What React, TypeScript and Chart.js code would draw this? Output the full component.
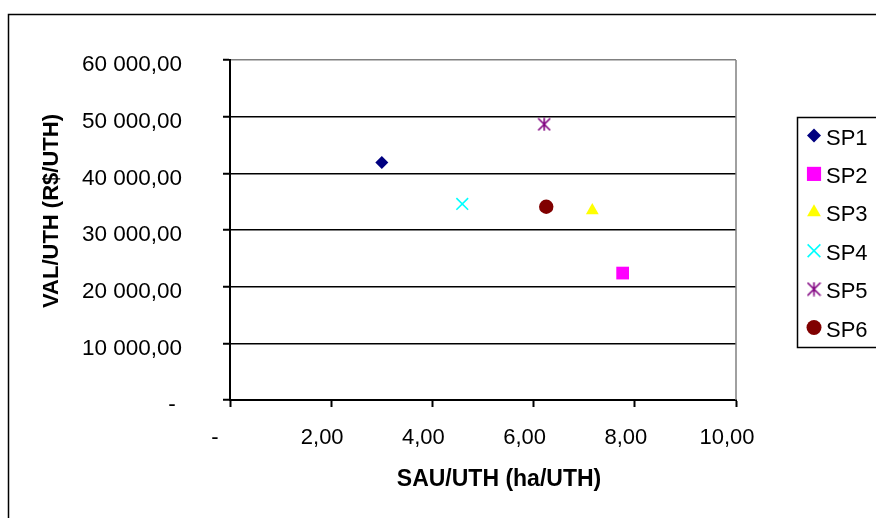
import React, { useEffect, useRef } from 'react';
import { Chart, registerables } from 'chart.js';
import { drawPoint } from 'chart.js/helpers';

Chart.register(...registerables);

// ---- data ----
const seriesNames = ['SP1', 'SP2', 'SP3', 'SP4', 'SP5', 'SP6'];
const sauUth = [3.0, 7.76, 7.16, 4.59, 6.21, 6.25];
const valUth = [41900, 22400, 33450, 34600, 48650, 34100];
const xTickLabels = ['-', '2,00', '4,00', '6,00', '8,00', '10,00'];
const yTickLabels = ['-', '10 000,00', '20 000,00', '30 000,00', '40 000,00', '50 000,00', '60 000,00'];
const xTitle = 'SAU/UTH (ha/UTH)';
const yTitle = 'VAL/UTH (R$/UTH)';

// ---- styles ----
const markerColors = ['#000080', '#FF00FF', '#FFFF00', '#00FFFF', '#800080', '#800000'];
const FONT = '"Liberation Sans", Arial, sans-serif';

function makeStar(color: string, size: number): HTMLCanvasElement {
  const c = document.createElement('canvas');
  c.width = size;
  c.height = size;
  const g = c.getContext('2d')!;
  const m = size / 2;
  g.strokeStyle = color;
  g.lineWidth = 1.6;
  g.beginPath();
  g.moveTo(1, 1); g.lineTo(size - 1, size - 1);
  g.moveTo(size - 1, 1); g.lineTo(1, size - 1);
  g.moveTo(m, 0.5); g.lineTo(m, size - 0.5);
  g.stroke();
  return c;
}

export default function App() {
  const ref = useRef<HTMLCanvasElement | null>(null);

  useEffect(() => {
    const canvas = ref.current!;
    const star = makeStar(markerColors[4], 14);
    const starLegend = makeStar(markerColors[4], 15);
    const styles: any[] = [
      { pointStyle: 'rectRot', radius: 6.5, bw: 0 },
      { pointStyle: 'rect', radius: 9, bw: 0 },
      { pointStyle: 'triangle', radius: 7.4, bw: 0 },
      { pointStyle: 'crossRot', radius: 8.3, bw: 1.6 },
      { pointStyle: star, radius: 7, bw: 0 },
      { pointStyle: 'circle', radius: 7.2, bw: 0 },
    ];
    const legendStyles: any[] = [
      { pointStyle: 'rectRot', radius: 7, bw: 0 },
      { pointStyle: 'rect', radius: 10, bw: 0 },
      { pointStyle: 'triangle', radius: 8, bw: 0 },
      { pointStyle: 'crossRot', radius: 9, bw: 1.6 },
      { pointStyle: starLegend, radius: 7.5, bw: 0 },
      { pointStyle: 'circle', radius: 7.5, bw: 0 },
    ];

    const datasets = seriesNames.map((name, i) => ({
      label: name,
      data: [{ x: sauUth[i], y: valUth[i] }],
      pointStyle: styles[i].pointStyle,
      pointRadius: styles[i].radius,
      pointBackgroundColor: markerColors[i],
      pointBorderColor: markerColors[i],
      pointBorderWidth: styles[i].bw,
      showLine: false,
    }));

    const decor = {
      id: 'decor',
      beforeDraw(chart: any) {
        const ctx = chart.ctx;
        ctx.save();
        ctx.fillStyle = '#fff';
        ctx.fillRect(0, 0, chart.width, chart.height);
        ctx.strokeStyle = '#000';
        ctx.lineWidth = 1.5;
        ctx.strokeRect(8.5, 14.5, 900, 600);
        ctx.restore();
      },
      afterDraw(chart: any) {
        const ctx = chart.ctx;
        const a = chart.chartArea;
        ctx.save();
        // right border of plot area
        ctx.strokeStyle = '#808080';
        ctx.lineWidth = 1.5;
        ctx.beginPath();
        ctx.moveTo(a.right, a.top);
        ctx.lineTo(a.right, a.bottom);
        ctx.stroke();

        // axis titles
        ctx.fillStyle = '#000';
        ctx.textAlign = 'center';
        ctx.textBaseline = 'alphabetic';
        ctx.font = `bold 23px ${FONT}`;
        ctx.fillText(xTitle, 499, 486);
        ctx.font = `bold 22px ${FONT}`;
        ctx.save();
        ctx.translate(58, 211);
        ctx.rotate(-Math.PI / 2);
        ctx.fillText(yTitle, 0, 0);
        ctx.restore();

        // legend
        ctx.strokeStyle = '#000';
        ctx.lineWidth = 1.5;
        ctx.strokeRect(797.5, 117.5, 200, 230);
        ctx.font = `22px ${FONT}`;
        ctx.textAlign = 'left';
        seriesNames.forEach((name, i) => {
          const y = 135.5 + i * 38.4;
          ctx.fillStyle = markerColors[i];
          ctx.strokeStyle = markerColors[i];
          ctx.lineWidth = legendStyles[i].bw;
          drawPoint(ctx, { pointStyle: legendStyles[i].pointStyle, radius: legendStyles[i].radius, rotation: 0, borderWidth: legendStyles[i].bw }, 814, y);
          ctx.fillStyle = '#000';
          ctx.fillText(name, 826, y + 9);
        });
        ctx.restore();
      },
    };

    const chart = new Chart(canvas, {
      type: 'scatter',
      data: { datasets },
      options: {
        responsive: false,
        animation: false,
        devicePixelRatio: 1,
        events: [],
        layout: { padding: { left: 66, top: 60, right: 140, bottom: 20 } },
        plugins: { legend: { display: false }, tooltip: { enabled: false }, title: { display: false } },
        scales: {
          x: {
            type: 'linear',
            min: 0,
            max: 10,
            afterFit: (s: any) => { s.height = 98; },
            border: { display: true, color: '#000', width: 2 },
            grid: { drawOnChartArea: false, drawTicks: true, tickLength: 7, tickColor: '#000', tickWidth: 2 },
            ticks: {
              stepSize: 2,
              padding: 18,
              labelOffset: -9,
              maxRotation: 0,
              autoSkip: false,
              color: '#000',
              font: { family: FONT, size: 22 },
              callback: (v: any) => {
                const idx = Math.round(Number(v) / 2);
                return idx === 0 ? xTickLabels[0] + '  ' : xTickLabels[idx];
              },
            },
          },
          y: {
            type: 'linear',
            min: 0,
            max: 60000,
            afterFit: (s: any) => { s.width = 164; },
            border: { display: true, color: '#000', width: 2 },
            grid: {
              drawTicks: true,
              tickLength: 7,
              tickColor: '#000',
              tickWidth: 2,
              lineWidth: 1.5,
              color: (c: any) => (c.tick && c.tick.value === 60000 ? '#808080' : '#000'),
            },
            ticks: {
              stepSize: 10000,
              padding: 41,
              labelOffset: 5,
              autoSkip: false,
              color: '#000',
              font: { family: FONT, size: 22.5 },
              callback: (v: any) => {
                const idx = Math.round(Number(v) / 10000);
                return idx === 0 ? yTickLabels[0] + ' ' : yTickLabels[idx];
              },
            },
          },
        },
      },
      plugins: [decor],
    } as any);

    return () => chart.destroy();
  }, []);

  return (
    <div style={{ position: 'absolute', left: 0, top: 0, width: 876, height: 518, background: '#fff' }}>
      <canvas ref={ref} width={876} height={518} style={{ display: 'block', width: 876, height: 518 }} />
    </div>
  );
}
